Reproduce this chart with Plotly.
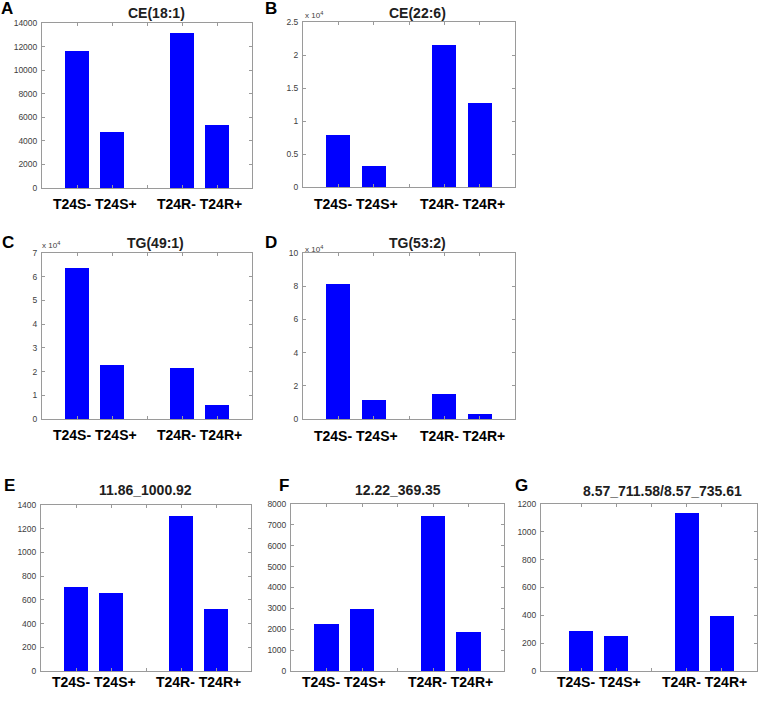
import plotly.graph_objects as go

W, H = 758, 703

positions = [1, 2, 4, 5]
group_labels = ["T24S- T24S+", "T24R- T24R+"]
group_pos = [1.5, 4.5]

titles = ["CE(18:1)", "CE(22:6)", "TG(49:1)", "TG(53:2)",
          "11.86_1000.92", "12.22_369.35", "8.57_711.58/8.57_735.61"]
letters = ["A", "B", "C", "D", "E", "F", "G"]

vals_A = [11650, 4720, 13150, 5380]
vals_B = [7880, 3200, 21500, 12800]
vals_C = [63800, 22900, 21700, 5900]
vals_D = [81500, 11600, 15000, 3000]
vals_E = [705, 657, 1305, 525]
vals_F = [2250, 2990, 7440, 1870]
vals_G = [290, 250, 1135, 398]

scale = [1, 1e4, 1e4, 1e4, 1, 1, 1]
ymax = [14000, 2.5, 7, 10, 1400, 8000, 1200]
dticks = [2000, 0.5, 1, 2, 200, 1000, 200]

# pixel boxes (x0, x1, ytop, ybottom)
boxes = [(42, 252, 23, 188), (303, 515, 22, 187), (42, 252, 253, 419),
         (303, 515, 253, 419), (41, 251, 505, 671), (291, 504, 504, 671),
         (541, 757, 504, 671)]
xranges = [[0, 6]] * 6 + [[-0.14, 6]]
title_pos = [(156, 12.5), (417, 12.5), (155, 242.5), (417, 242.5),
             (145, 490), (398, 490), (662, 491)]
letter_pos = [(7, 8), (271, 8), (8, 243), (271, 243), (9, 485), (284, 485), (521, 485)]
label_y = [204, 204, 435, 436, 682, 682, 682]
mult_pos = [None, (314, 15), (51, 245), (314, 249), None, None, None]

all_vals = [vals_A, vals_B, vals_C, vals_D, vals_E, vals_F, vals_G]

FONT = "Liberation Sans, Arial"
fig = go.Figure()
ann = []
axis_col = "#9a9a9a"
for i, vals in enumerate(all_vals):
    k = "" if i == 0 else str(i + 1)
    x0, x1, yt, yb = boxes[i]
    fig.add_trace(go.Bar(
        x=positions, y=[v / scale[i] for v in vals],
        width=0.68, marker=dict(color="#0000FF", line=dict(width=0)),
        xaxis="x" + k, yaxis="y" + k, showlegend=False, hoverinfo="skip"))
    fig.layout["xaxis" + k] = dict(
        domain=[x0 / W, x1 / W], range=xranges[i], anchor="y" + k,
        tickvals=[1, 2, 3, 4, 5], showticklabels=False, ticks="inside",
        ticklen=3, tickcolor=axis_col, showline=True, linecolor=axis_col,
        linewidth=1, mirror="ticks", showgrid=False, zeroline=False,
        automargin=False)
    fig.layout["yaxis" + k] = dict(
        domain=[1 - yb / H, 1 - yt / H], range=[0, ymax[i]], anchor="x" + k,
        dtick=dticks[i], tick0=0, ticks="inside", ticklen=3, tickcolor=axis_col,
        showline=True, linecolor=axis_col, linewidth=1, mirror="ticks",
        showgrid=False, zeroline=False, automargin=False,
        tickformat="d" if scale[i] == 1 else "", ticklabelstandoff=2,
        tickfont=dict(family=FONT, size=8.5, color="#404040"))
    tx, ty = title_pos[i]
    ann.append(dict(x=tx / W, y=1 - ty / H, xref="paper", yref="paper",
                    text="<b>" + titles[i] + "</b>", showarrow=False,
                    xanchor="center", yanchor="middle",
                    font=dict(family=FONT, size=14, color="#202020")))
    lx, ly = letter_pos[i]
    ann.append(dict(x=lx / W, y=1 - ly / H, xref="paper", yref="paper",
                    text="<b>" + letters[i] + "</b>", showarrow=False,
                    xanchor="center", yanchor="middle",
                    font=dict(family=FONT, size=17, color="black")))
    for g, gp in zip(group_labels, group_pos):
        ann.append(dict(x=gp, y=1 - label_y[i] / H, xref="x" + k, yref="paper",
                        text="<b>" + g + "</b>", showarrow=False,
                        xanchor="center", yanchor="middle",
                        font=dict(family=FONT, size=14, color="black")))
    if mult_pos[i]:
        mx, my = mult_pos[i]
        ann.append(dict(x=mx / W, y=1 - my / H, xref="paper", yref="paper",
                        text="x 10<sup>4</sup>", showarrow=False,
                        xanchor="center", yanchor="middle",
                        font=dict(family=FONT, size=8, color="#404040")))

fig.update_layout(width=W, height=H, margin=dict(l=0, r=0, t=0, b=0),
                  paper_bgcolor="white", plot_bgcolor="white",
                  annotations=ann, bargap=0)
fig.write_html("out.html", config={"displayModeBar": False},
               post_script="document.body.style.margin='0';document.body.style.overflow='hidden';")
